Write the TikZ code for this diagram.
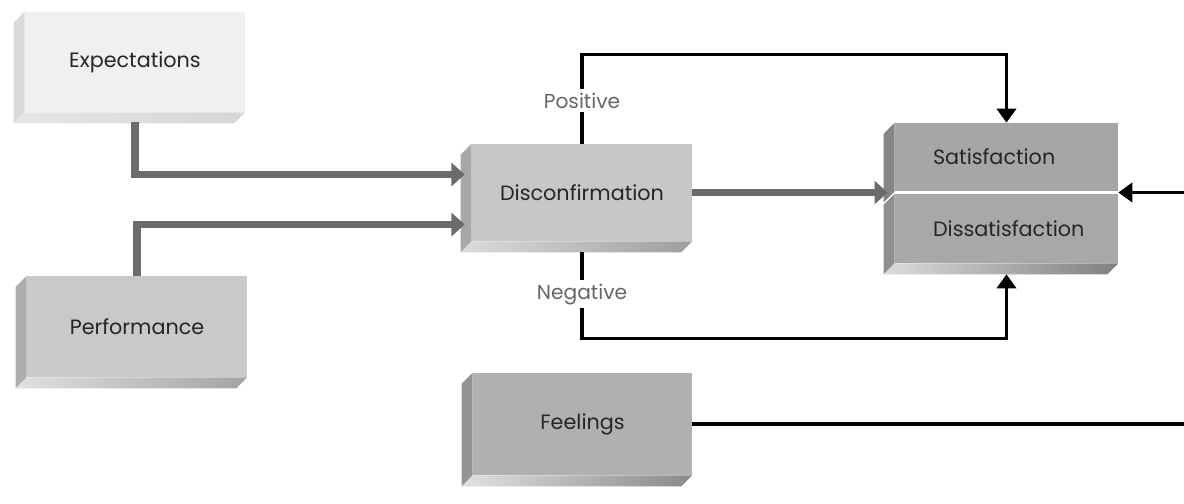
\documentclass[tikz,border=0pt]{standalone}
\usepackage{fontspec}
\setmainfont{Poppins}
\usetikzlibrary{calc,arrows.meta}
\begin{document}
\begin{tikzpicture}[x=0.02cm,y=-0.02cm,
  blk/.style={inner sep=0pt, font=\fontsize{11.8}{14}\selectfont, text=black!85},
  thickarrow/.style={line width=4.2pt, draw=black!58, -{Triangle[width=13pt,length=7.5pt]}},
  thinarrow/.style={line width=1.8pt, draw=black, -{Triangle[width=11pt,length=8pt]}},
  lbl/.style={fill=white, inner sep=2pt, text=black!60, font=\fontsize{11.5}{13}\selectfont}]
\useasboundingbox (0,0) rectangle (1184,504);
\clip (0,0) rectangle (1184,504);
\fill[white] (0,0) rectangle (1184,504);
\newcommand\blockfaces[4]{% name, left colour, bottom-left colour, bottom-right colour
  \fill[#2] (#1.north west) -- ++(-11,11) -- ($(#1.south west)+(-11,11)$) -- (#1.south west) -- cycle;
  \shade[left color=#3, right color=#4] (#1.south west) -- (#1.south east) -- ++(-11,11) -- ($(#1.south west)+(-11,11)$) -- cycle;}
\newcommand\leftface[2]{%
  \fill[#2] (#1.north west) -- ++(-11,11) -- ($(#1.south west)+(-11,11)$) -- (#1.south west) -- cycle;}
% blocks
\node[blk, fill=black!6, minimum width=4.4cm, minimum height=2.0cm] (exp) at (135,62) {Expectations};
\blockfaces{exp}{black!15}{black!10}{black!16}
\node[blk, fill=black!21, minimum width=4.4cm, minimum height=2.02cm] (perf) at (137,326.5) {Performance};
\blockfaces{perf}{black!32}{black!12}{black!36}
\node[blk, fill=black!22, minimum width=4.4cm, minimum height=1.94cm] (disc) at (582,192.5) {Disconfirmation};
\blockfaces{disc}{black!34}{black!14}{black!38}
\node[blk, fill=black!35, minimum width=4.46cm, minimum height=1.36cm, text width=2.94cm, align=left] (sat) at (1006.5,157) {Satisfaction};
\leftface{sat}{black!48}
\node[blk, fill=black!34, minimum width=4.46cm, minimum height=1.38cm, text width=2.94cm, align=left] (dis) at (1006.5,228.5) {Dissatisfaction};
\blockfaces{dis}{black!44}{black!14}{black!50}
\node[blk, fill=black!31, minimum width=4.38cm, minimum height=2.04cm] (feel) at (582.5,424) {Feelings};
\blockfaces{feel}{black!42}{black!12}{black!46}
% thick arrows
\draw[thickarrow] ($(exp.south)+(0,10)$) |- ($(disc.west)+(-7,-18)$);
\draw[thickarrow] (perf.north) |- ($(disc.west)+(-7,32)$);
\draw[thickarrow] (disc.east) -- ($(sat.south west)!0.5!(dis.north west)+(-7,0)$);
% thin arrows
\draw[thinarrow] (disc.north) -- ++(0,-89) -| (sat.north);
\node[lbl] (pos) at ($(disc.north)+(0,-43)$) {Positive};
\draw[thinarrow] ($(disc.south)+(0,11)$) -- ++(0,86) -| ($(dis.south)+(0,11)$);
\node[lbl] (neg) at ($(disc.south)+(0,53)$) {Negative};
\coordinate (edge) at (1200,0);
\draw[thinarrow] (feel.east) -- (feel.east -| edge) |- ($(sat.south east)!0.5!(dis.north east)$);
\end{tikzpicture}
\end{document}
